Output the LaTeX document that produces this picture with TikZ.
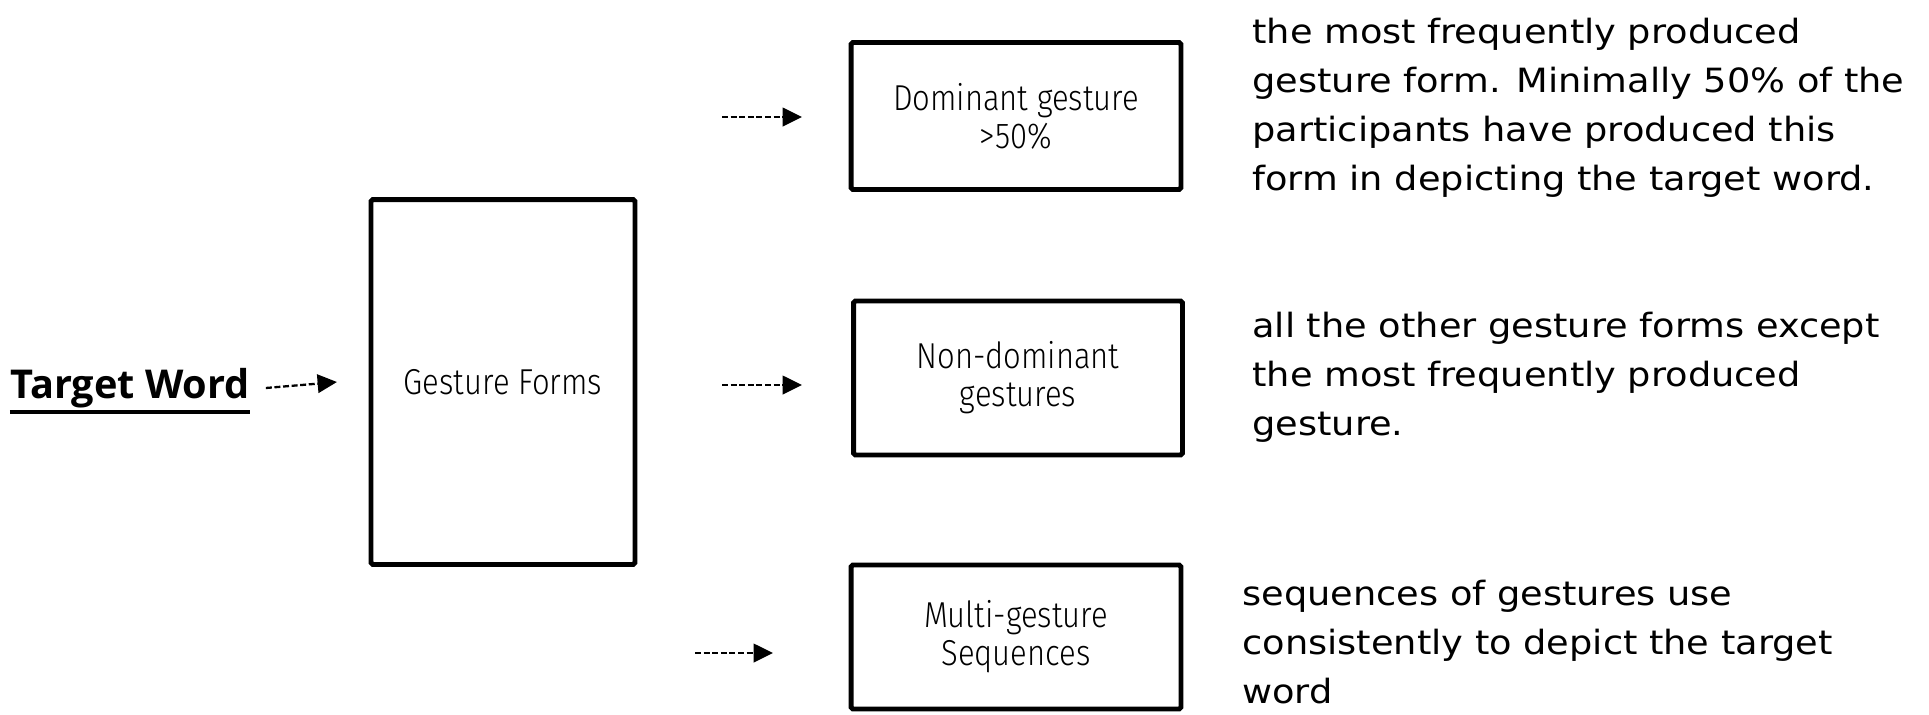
\documentclass[tikz,border=0pt]{standalone}
\usepackage{fontspec}
\usetikzlibrary{arrows.meta}
\setmainfont[FakeStretch=1.10]{DejaVu Sans}
\newfontfamily\boxfont[FakeStretch=0.86]{Fira Sans Light}
\newfontfamily\wordfont{Open Sans}

\tikzset{
  formbox/.style={draw, line width=2.8pt, rounded corners=1pt, align=center,
    font=\boxfont\fontsize{20.5}{21.5}\selectfont},
  desctext/.style={anchor=north west, align=left, inner sep=0pt,
    font=\fontsize{19}{27.8}\selectfont},
  flow/.style={dashed, dash pattern=on 3.4pt off 1.5pt, line width=1.3pt,
    -{Triangle[length=11pt,width=10.5pt]}}
}

\begin{document}
\begin{tikzpicture}[x=0.02cm, y=-0.02cm]
          \useasboundingbox (0,0) rectangle (1929,714);

          \node (target) at (130,388) [font=\wordfont\bfseries\fontsize{22.6}{26}\selectfont, inner sep=0pt] {Target Word};
          \node (forms) at (503,382) [formbox, minimum width=5.28cm, minimum height=7.3cm] {Gesture Forms};
          \node (dom) at (1016,116) [formbox, minimum width=6.6cm, minimum height=2.94cm] {Dominant gesture\\>50\%};
          \node (nondom) at (1018,378) [formbox, minimum width=6.58cm, minimum height=3.08cm] {Non-dominant\\gestures};
          \node (multi) at (1016,637) [formbox, minimum width=6.6cm, minimum height=2.88cm] {Multi-gesture\\Sequences};

          \node (domtext) at (1252,18) [desctext] {the most frequently produced\\gesture form. Minimally 50\% of the\\participants have produced this\\form in depicting the target word.};
          \node (nondomtext) at (1252,312) [desctext] {all the other gesture forms except\\the most frequently produced\\gesture.};
          \node (multitext) at (1242,580) [desctext] {sequences of gestures use\\consistently to depict the target\\word};

          \draw[line width=2.2pt] ([yshift=-8pt]target.base west) -- ([yshift=-8pt]target.base east);

          \coordinate (d1) at (722,117);
          \coordinate (d2) at (722,385);
          \coordinate (d3) at (695,653);

          \draw[flow] ([xshift=9pt]target.east) -- ([xshift=-18pt]forms.west);
          \draw[flow] (d1) -- ++(80,0);
          \draw[flow] (d2) -- ++(80,0);
          \draw[flow] (d3) -- ++(78,0);
        \end{tikzpicture}
\end{document}
